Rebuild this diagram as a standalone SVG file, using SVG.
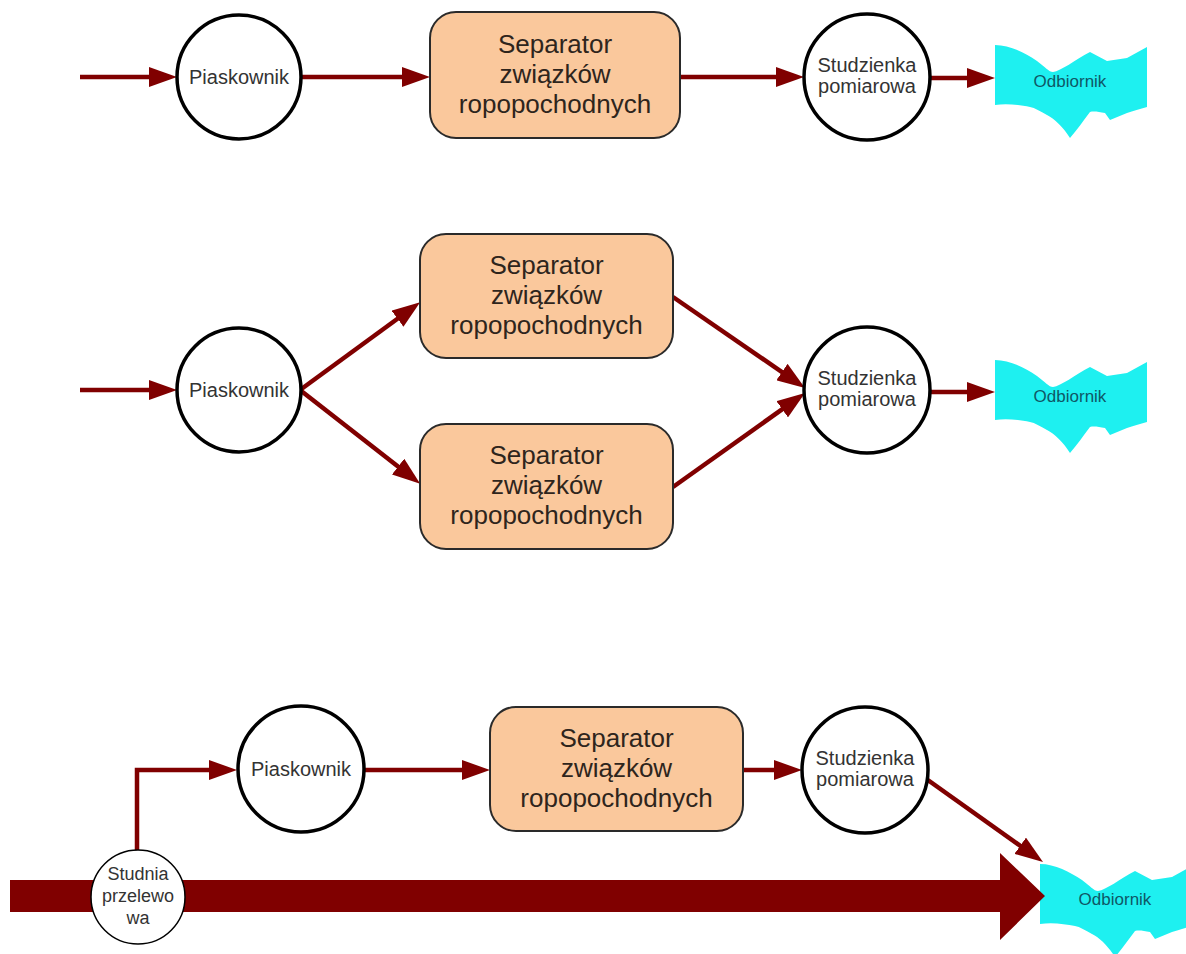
<svg xmlns="http://www.w3.org/2000/svg" xmlns:xlink="http://www.w3.org/1999/xlink" width="1186" height="954" viewBox="0 0 1186 954">
<style>
.bg{fill:#ffffff}
.circ{fill:#ffffff;stroke:#000000;stroke-width:3.5}
.thin{fill:#ffffff;stroke:#000000;stroke-width:1.5}
.box{fill:#fac89c;stroke:#2a2a2a;stroke-width:2}
.wave{fill:#1ef0f0}
.ct{font-family:"Liberation Sans",Arial,sans-serif;font-size:20px;fill:#333333;text-anchor:middle}
.st{font-family:"Liberation Sans",Arial,sans-serif;font-size:18px;fill:#333333;text-anchor:middle}
.bt{font-family:"Liberation Sans",Arial,sans-serif;font-size:26px;fill:#2e251c;text-anchor:middle}
.ot{font-family:"Liberation Sans",Arial,sans-serif;font-size:17px;fill:#0f5866;text-anchor:middle}
.ln{fill:none;stroke:#800000;stroke-width:4.5;marker-end:url(#ah)}
.big{fill:#800000}
</style>
<defs>
<marker id="ah" markerUnits="userSpaceOnUse" markerWidth="28" markerHeight="20" viewBox="0 0 28 20" refX="8" refY="10" orient="auto">
<path d="M0,0 L28,10 L0,20 z" fill="#800000"/>
</marker>
<path id="wv" d="M0,0 C15,0 30,8 42,16 C50,22 54,27 58,27 C66,26 80,15 95,7 L112,16 L132,13 L152,2 L152,62 C145,64 138,66 132,68 L115,75 L110,68 C104,67 99,66 95,67 C88,76 82,85 75,93 C68,82 60,74 52,70 C45,66 40,63 35,62 C25,60 12,58 0,60 Z"/>
</defs>
<rect class="bg" x="0" y="0" width="1186" height="954"/>

<g id="odb1"><use xlink:href="#wv" href="#wv" class="wave" x="995" y="45"/><text class="ot" x="1070" y="87">Odbiornik</text></g>
<g id="odb2"><use xlink:href="#wv" href="#wv" class="wave" x="995" y="360"/><text class="ot" x="1070" y="402">Odbiornik</text></g>
<g id="odb3"><use xlink:href="#wv" href="#wv" class="wave" x="1040" y="864"/><text class="ot" x="1115" y="905">Odbiornik</text></g>

<g id="connectors">
<path class="ln" d="M80,77 H157"/>
<path class="ln" d="M301,77 H410"/>
<path class="ln" d="M680,77 H784"/>
<path class="ln" d="M930,78 H975"/>

<path class="ln" d="M80,390 H157"/>
<path class="ln" d="M300,390 L404,314"/>
<path class="ln" d="M300,390 L404.4,471.5"/>
<path class="ln" d="M673,297 L788.5,376.6"/>
<path class="ln" d="M673,487 L788.7,404.6"/>
<path class="ln" d="M929,392 H975"/>

<path class="ln" d="M137,852 V770 H217"/>
<path class="ln" d="M363,770 H470"/>
<path class="ln" d="M743,770 H782"/>
<path class="ln" d="M925,778 L1026.7,850.4"/>
<path class="big" d="M10,880 L1000,880 L1000,853 L1045,896 L1000,940 L1000,912 L10,912 Z"/>
</g>

<g id="pias1"><circle class="circ" cx="239" cy="77" r="62"/><text class="ct" x="239" y="84">Piaskownik</text></g>
<g id="sep1"><rect class="box" x="430" y="12" width="250" height="126" rx="26"/>
<text class="bt" x="555" y="53">Separator</text><text class="bt" x="555" y="83">związków</text><text class="bt" x="555" y="113">ropopochodnych</text></g>
<g id="stud1"><circle class="circ" cx="867" cy="77" r="63"/><text class="ct" x="867" y="72">Studzienka</text><text class="ct" x="867" y="93">pomiarowa</text></g>

<g id="pias2"><circle class="circ" cx="239" cy="390" r="62"/><text class="ct" x="239" y="397">Piaskownik</text></g>
<g id="sep2a"><rect class="box" x="420" y="234" width="253" height="124" rx="26"/>
<text class="bt" x="546.5" y="274">Separator</text><text class="bt" x="546.5" y="304">związków</text><text class="bt" x="546.5" y="334">ropopochodnych</text></g>
<g id="sep2b"><rect class="box" x="420" y="424" width="253" height="125" rx="26"/>
<text class="bt" x="546.5" y="464">Separator</text><text class="bt" x="546.5" y="494">związków</text><text class="bt" x="546.5" y="524">ropopochodnych</text></g>
<g id="stud2"><circle class="circ" cx="867" cy="390" r="63"/><text class="ct" x="867" y="385">Studzienka</text><text class="ct" x="867" y="406">pomiarowa</text></g>

<g id="pias3"><circle class="circ" cx="301" cy="769" r="63"/><text class="ct" x="301" y="776">Piaskownik</text></g>
<g id="sep3"><rect class="box" x="490" y="707" width="253" height="124" rx="26"/>
<text class="bt" x="616.5" y="747">Separator</text><text class="bt" x="616.5" y="777">związków</text><text class="bt" x="616.5" y="807">ropopochodnych</text></g>
<g id="stud3"><circle class="circ" cx="865" cy="770" r="63"/><text class="ct" x="865" y="765">Studzienka</text><text class="ct" x="865" y="786">pomiarowa</text></g>
<g id="studnia"><circle class="thin" cx="138" cy="897" r="47"/><text class="st" x="138" y="880">Studnia</text><text class="st" x="138" y="902">przelewo</text><text class="st" x="138" y="924">wa</text></g>
</svg>
